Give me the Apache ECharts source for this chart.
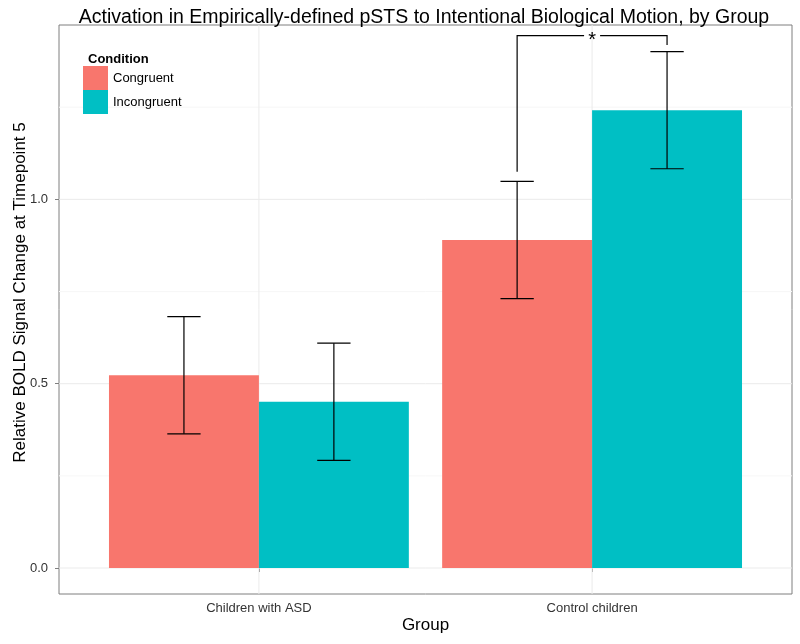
<!DOCTYPE html>
<html>
<head>
<meta charset="utf-8">
<script src="https://cdn.jsdelivr.net/npm/echarts@6/dist/echarts.min.js"></script>
<style>
html,body{margin:0;padding:0;background:#fff;}
#chart{width:800px;height:644px;}
</style>
</head>
<body>
<div id="chart"></div>
<script>
// ---- data ----
const groups = ['Children with ASD', 'Control children'];
const conditions = ['Congruent', 'Incongruent'];
const congruent = [0.523, 0.890];
const incongruent = [0.451, 1.242];
const congruentErr = [0.159, 0.159];
const incongruentErr = [0.159, 0.159];
const yTickValues = [0, 0.5, 1.0];
const yMinorValues = [0.25, 0.75, 1.25];
const xTickValues = [1, 2];
// significance bracket: x of legs, y of left leg bottom, top, right leg bottom
const sigX = [1.775, 2.225];
const sigY = [1.075, 1.444, 1.4185];
const sigLabel = '*';

const X_MIN = 0.4, X_MAX = 2.6, Y_MIN = -0.0705, Y_MAX = 1.473;
const COLORS = ['#F8766D', '#00BFC4'];
const FONT = 'Liberation Sans, Arial, sans-serif';

const chart = echarts.init(document.getElementById('chart'), null, {renderer: 'canvas'});

const gridData = []
  .concat(yMinorValues.map(v => [1, v]))
  .concat(yTickValues.map(v => [0, v]))
  .concat(xTickValues.map(v => [2, v]));

function barRender(offset, color) {
  return function (params, api) {
    const x = api.value(0) + offset;
    const v = api.value(1);
    const e = api.value(2);
    const tl = api.coord([x - 0.225, v]);
    const br = api.coord([x + 0.225, 0]);
    const c = api.coord([x, v]);
    const top = api.coord([x, v + e]);
    const bot = api.coord([x, v - e]);
    const capL = api.coord([x - 0.05, v])[0];
    const capR = api.coord([x + 0.05, v])[0];
    const ls = {stroke: '#000', lineWidth: 1.2};
    return {
      type: 'group',
      children: [
        {type: 'rect', shape: {x: tl[0], y: tl[1], width: br[0] - tl[0], height: br[1] - tl[1]}, style: {fill: color}},
        {type: 'line', shape: {x1: c[0], y1: top[1], x2: c[0], y2: bot[1]}, style: ls},
        {type: 'line', shape: {x1: capL, y1: top[1], x2: capR, y2: top[1]}, style: ls},
        {type: 'line', shape: {x1: capL, y1: bot[1], x2: capR, y2: bot[1]}, style: ls}
      ]
    };
  };
}

const option = {
  backgroundColor: '#ffffff',
  animation: false,
  title: [
    {
      text: 'Activation in Empirically-defined pSTS to Intentional Biological Motion, by Group',
      left: 419, top: 3, textAlign: 'center',
      textStyle: {fontFamily: FONT, fontSize: 19.5, fontWeight: 'normal', color: '#000'}
    },
    {
      text: 'Condition', left: 83, top: 48,
      textStyle: {fontFamily: FONT, fontSize: 13, fontWeight: 'bold', color: '#000'}
    }
  ],
  legend: {
    orient: 'vertical', left: 83, top: 66, padding: 0,
    itemWidth: 25, itemHeight: 24, itemGap: 0, icon: 'rect',
    selectedMode: false,
    data: conditions,
    textStyle: {fontFamily: FONT, fontSize: 13, color: '#000'}
  },
  grid: {
    left: 59, top: 25, right: 8, bottom: 50,
    show: true, borderColor: '#7f7f7f', borderWidth: 1, backgroundColor: '#fff',
    containLabel: false, outerBoundsMode: 'none'
  },
  xAxis: {
    type: 'value', min: X_MIN, max: X_MAX,
    name: 'Group', nameLocation: 'middle', nameGap: 23, nameMoveOverlap: false,
    nameTextStyle: {fontFamily: FONT, fontSize: 17, color: '#000'},
    axisLine: {show: false},
    splitLine: {show: false},
    axisTick: {show: true, length: 4, customValues: xTickValues, lineStyle: {color: '#7f7f7f'}},
    axisLabel: {
      customValues: xTickValues, margin: 8,
      fontFamily: FONT, fontSize: 13, color: '#333',
      formatter: v => groups[Math.round(v) - 1] || ''
    }
  },
  yAxis: {
    type: 'value', min: Y_MIN, max: Y_MAX,
    name: 'Relative BOLD Signal Change at Timepoint 5', nameLocation: 'middle', nameGap: 30,
    nameMoveOverlap: false,
    nameTextStyle: {fontFamily: FONT, fontSize: 17, color: '#000', padding: [0, 0, 0, 34]},
    axisLine: {show: false},
    splitLine: {show: false},
    axisTick: {show: true, length: 4, customValues: yTickValues, lineStyle: {color: '#7f7f7f'}},
    axisLabel: {
      customValues: yTickValues, margin: 11,
      fontFamily: FONT, fontSize: 13, color: '#333',
      formatter: v => v.toFixed(1)
    }
  },
  series: [
    {
      type: 'custom', name: 'grid', silent: true, z: 1,
      data: gridData,
      encode: {x: -1, y: -1},
      renderItem: function (params, api) {
        const kind = api.value(0), v = api.value(1);
        let p1, p2;
        if (kind === 2) { p1 = api.coord([v, Y_MIN]); p2 = api.coord([v, Y_MAX]); }
        else { p1 = api.coord([X_MIN, v]); p2 = api.coord([X_MAX, v]); }
        return {
          type: 'line',
          shape: {x1: p1[0], y1: p1[1], x2: p2[0], y2: p2[1]},
          style: {stroke: kind === 1 ? '#f7f7f7' : '#ebebeb', lineWidth: 1}
        };
      }
    },
    {
      type: 'custom', name: 'Congruent', z: 2,
      itemStyle: {color: COLORS[0]},
      data: congruent.map((v, i) => [i + 1, v, congruentErr[i]]),
      renderItem: barRender(-0.225, COLORS[0])
    },
    {
      type: 'custom', name: 'Incongruent', z: 2,
      itemStyle: {color: COLORS[1]},
      data: incongruent.map((v, i) => [i + 1, v, incongruentErr[i]]),
      renderItem: barRender(0.225, COLORS[1])
    },
    {
      type: 'custom', name: 'sig', silent: true, z: 3,
      data: [[sigX[0], sigX[1], sigY[0], sigY[1], sigY[2]]],
      encode: {x: [0, 1], y: [2, 3, 4]},
      clip: false,
      renderItem: function (params, api) {
        const x1 = api.value(0), x2 = api.value(1);
        const pLB = api.coord([x1, api.value(2)]);
        const pLT = api.coord([x1, api.value(3)]);
        const pRT = api.coord([x2, api.value(3)]);
        const pRB = api.coord([x2, api.value(4)]);
        const cx = (pLT[0] + pRT[0]) / 2;
        const ls = {stroke: '#000', lineWidth: 1.2, fill: null};
        return {
          type: 'group',
          children: [
            {type: 'polyline', shape: {points: [pLB, pLT, [cx - 8, pLT[1]]]}, style: ls},
            {type: 'polyline', shape: {points: [[cx + 8, pRT[1]], pRT, pRB]}, style: ls},
            {type: 'text', style: {text: sigLabel, x: cx, y: pLT[1] + 5, align: 'center', verticalAlign: 'middle',
              fontFamily: FONT, fontSize: 20, fill: '#000'}}
          ]
        };
      }
    }
  ]
};
chart.setOption(option);
</script>
</body>
</html>
